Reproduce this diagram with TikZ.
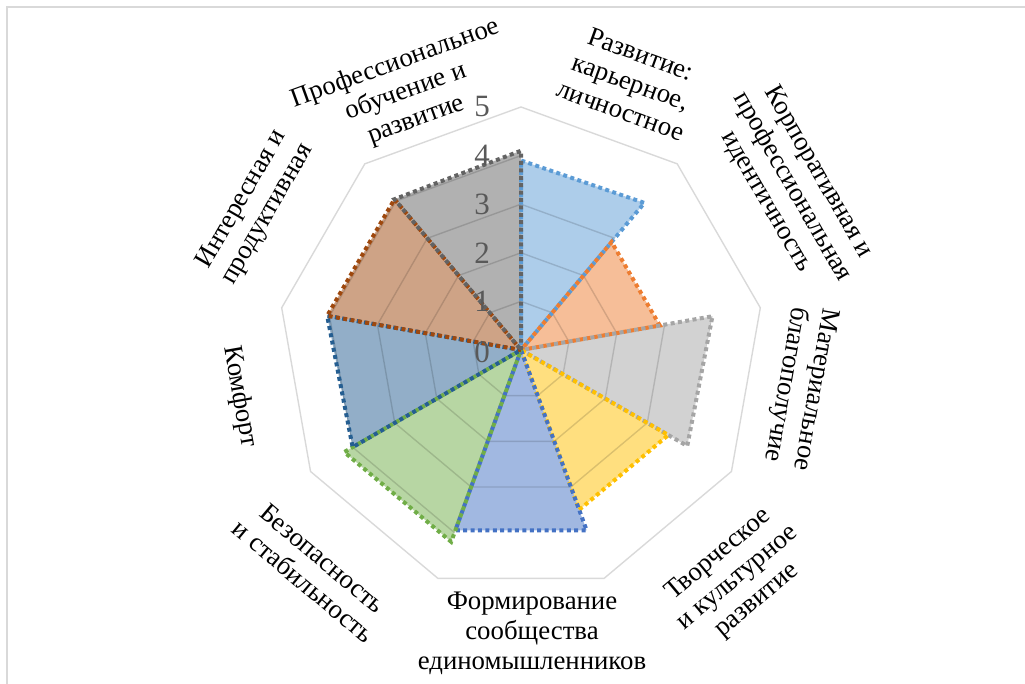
\documentclass[tikz,border=0pt]{standalone}
\usepackage{fontspec}
\setmainfont{Liberation Serif}
\definecolor{sA}{HTML}{5B9BD5}
\definecolor{sB}{HTML}{ED7D31}
\definecolor{sC}{HTML}{A5A5A5}
\definecolor{sD}{HTML}{FFC000}
\definecolor{sE}{HTML}{4472C4}
\definecolor{sF}{HTML}{70AD47}
\definecolor{sG}{HTML}{255E91}
\definecolor{sH}{HTML}{9E480E}
\definecolor{sI}{HTML}{636363}
\definecolor{gridc}{HTML}{D9D9D9}
\definecolor{numc}{HTML}{595959}
\begin{document}
\begin{tikzpicture}[x=1pt,y=1pt,
  gridline/.style={draw=gridc, line width=1.4pt},
  innergrid/.style={draw=black, draw opacity=0.14, line width=1.4pt},
  sfill/.style={fill=#1, fill opacity=0.5},
  sline/.style={draw=#1, line width=4pt, dash pattern=on 4pt off 3.4pt, line join=miter},
  lab/.style={font=\fontsize{26.8}{30}\selectfont, align=center, inner sep=0pt},
  num/.style={font=\fontsize{31}{32}\selectfont, text=numc, anchor=east, inner sep=0pt}]
\useasboundingbox (0,0) rectangle (1025,684);
\draw[gridline] (7,0) -- (7,677) -- (1025,677);
\coordinate (C) at (521,334);
\begin{scope}[shift={(C)}]
  \coordinate (O) at (0,0);
  % outer ring
  \draw[gridline] (90:{5*48.6}) \foreach \k in {1,...,8}{ -- ({90-40*\k}:{5*48.6}) } -- cycle;
  % data points
  \coordinate (Ap) at (50:{3.95*48.6});  \coordinate (Aq) at (90:{3.9*48.6});
  \coordinate (Bp) at (10:{2.9*48.6});   \coordinate (Bq) at (50:{2.9*48.6});
  \coordinate (Cp) at (-30:{3.95*48.6}); \coordinate (Cq) at (10:{4.0*48.6});
  \coordinate (Dp) at (-70:{3.5*48.6});  \coordinate (Dq) at (-30:{3.5*48.6});
  \coordinate (Ep) at (-110:{3.95*48.6});\coordinate (Eq) at (-70:{3.95*48.6});
  \coordinate (Fp) at (-150:{4.2*48.6}); \coordinate (Fq) at (-110:{4.2*48.6});
  \coordinate (Gp) at (170:{4.05*48.6}); \coordinate (Gq) at (210:{4.0*48.6});
  \coordinate (Hp) at (130:{4.05*48.6}); \coordinate (Hq) at (170:{4.05*48.6});
  \coordinate (Ip) at (90:{4.1*48.6});   \coordinate (Iq) at (130:{4.05*48.6});
  % fills
  \fill[sfill=sA] (O) -- (Ap) -- (Aq) -- cycle;
  \fill[sfill=sB] (O) -- (Bp) -- (Bq) -- cycle;
  \fill[sfill=sC] (O) -- (Cp) -- (Cq) -- cycle;
  \fill[sfill=sD] (O) -- (Dp) -- (Dq) -- cycle;
  \fill[sfill=sE] (O) -- (Ep) -- (Eq) -- cycle;
  \fill[sfill=sF] (O) -- (Fp) -- (Fq) -- cycle;
  \fill[sfill=sG] (O) -- (Gp) -- (Gq) -- cycle;
  \fill[sfill=sH] (O) -- (Hp) -- (Hq) -- cycle;
  \fill[sfill=sI] (O) -- (Ip) -- (Iq) -- cycle;
  % inner rings seen through the filled areas
  \begin{scope}
    \clip (O) -- (Ap) -- (Aq) -- cycle (O) -- (Bp) -- (Bq) -- cycle
          (O) -- (Cp) -- (Cq) -- cycle (O) -- (Dp) -- (Dq) -- cycle
          (O) -- (Ep) -- (Eq) -- cycle (O) -- (Fp) -- (Fq) -- cycle
          (O) -- (Gp) -- (Gq) -- cycle (O) -- (Hp) -- (Hq) -- cycle
          (O) -- (Ip) -- (Iq) -- cycle;
    \foreach \l in {1,...,4}{
      \draw[innergrid] (90:{\l*48.6}) \foreach \k in {1,...,8}{ -- ({90-40*\k}:{\l*48.6}) } -- cycle;
    }
  \end{scope}
  % outlines
  \draw[sline=sA] (O) -- (Ap) -- (Aq) -- cycle;
  \draw[sline=sB] (O) -- (Bp) -- (Bq) -- cycle;
  \draw[sline=sC] (O) -- (Cp) -- (Cq) -- cycle;
  \draw[sline=sD] (O) -- (Dp) -- (Dq) -- cycle;
  \draw[sline=sE] (O) -- (Ep) -- (Eq) -- cycle;
  \draw[sline=sF] (O) -- (Fp) -- (Fq) -- cycle;
  \draw[sline=sG] (O) -- (Gp) -- (Gq) -- cycle;
  \draw[sline=sH] (O) -- (Hp) -- (Hq) -- cycle;
  \draw[sline=sI] (O) -- (Ip) -- (Iq) -- cycle;
\end{scope}
% axis numbers
\node[num] (n0) at (490,{332+0*48.6}) {0};
\node[num] (n1) at (490,{334+1*48.6}) {1};
\node[num] (n2) at (490,{334+2*48.6}) {2};
\node[num] (n3) at (490,{334+3*48.6}) {3};
\node[num] (n4) at (490,{334+4*48.6}) {4};
\node[num] (n5) at (490,{334+5*48.6}) {5};
% category labels
\node[lab, rotate=20] (l1) at (406,592) {Профессиональное\\обучение и\\развитие};
\node[lab, rotate=-20] (l2) at (631,602) {Развитие:\\карьерное,\\личностное};
\node[lab, rotate=-60] (l3) at (792,497) {Корпоративная и\\профессиональная\\идентичность};
\node[lab, rotate=-100] (l4) at (800,297) {Материальное\\благополучие};
\node[lab, rotate=40] (l5) at (738,106) {Творческое\\и культурное\\развитие};
\node[lab] (l6) at (532,51) {Формирование\\сообщества\\единомышленников};
\node[lab, rotate=-40] (l7) at (313,114) {Безопасность\\и стабильность};
\node[lab, rotate=-80] (l8) at (240,287) {Комфорт};
\node[lab, rotate=60] (l9) at (255,477) {Интересная и\\продуктивная};
\end{tikzpicture}
\end{document}
